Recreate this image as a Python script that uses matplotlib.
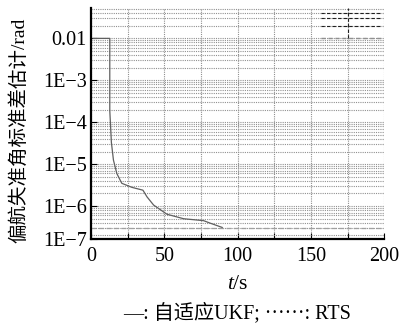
import matplotlib
matplotlib.use('Agg')
import matplotlib.pyplot as plt
from matplotlib.ticker import FixedLocator, LogLocator, NullFormatter

plt.rcParams['font.family'] = ['Liberation Serif', 'Noto Sans CJK SC']
plt.rcParams['mathtext.fontset'] = 'custom'
plt.rcParams['mathtext.it'] = 'Liberation Serif:italic'
plt.rcParams['mathtext.rm'] = 'Liberation Serif'

# adaptive UKF yaw misalignment std estimate (rad) vs time (s)
ukf_t = [1.4, 12.8, 12.8, 13.9, 15.3, 17.6, 21.0, 27.9, 35.4, 38.2, 42.7,
         51.8, 63.2, 76.8, 81.5, 89.5]
ukf_sigma = [1e-2, 1e-2, 1.9e-4, 3.3e-5, 1.25e-5, 6.0e-6, 3.5e-6, 2.8e-6,
             2.4e-6, 1.66e-6, 1.06e-6, 6.4e-7, 5.0e-7, 4.5e-7, 3.9e-7, 3.1e-7]

# RTS smoother level
rts_t = [0, 200]
rts_sigma = [3e-7, 3e-7]

ytick_vals = [1.64e-7, 1e-6, 1e-5, 1e-4, 1e-3, 1e-2]
ytick_labels = ['1E\u22127', '1E\u22126', '1E\u22125', '1E\u22124', '1E\u22123', '0.01']
xticks = [0, 50, 100, 150, 200]

# darker dashed grid pieces in the upper right corner
dark_grid_y = [0.02, 0.03, 0.04]
dark_grid_x = (157, 198)
dark_grid_vx = 175

fig = plt.figure(figsize=(4.10, 3.27), dpi=100)
ax = fig.add_axes([0.222, 0.269, 0.715, 0.7065])

ax.set_yscale('log')
ax.set_xlim(0, 200)
ax.set_ylim(1.64e-7, 0.053)

# grid
ax.grid(True, which='major', axis='both', color='#909090', linestyle=(0, (1, 1)), linewidth=0.8)
ax.grid(True, which='minor', axis='both', color='#909090', linestyle=(0, (1, 1)), linewidth=0.8)
ax.set_axisbelow(True)

ax.plot(rts_t, rts_sigma, color='#a0a0a0', linestyle=(0, (4, 2)), linewidth=0.9)
ax.plot(ukf_t, ukf_sigma, color='#606060', linewidth=0.9)

for yv in dark_grid_y:
    ax.hlines(yv, dark_grid_x[0], dark_grid_x[1], color='#202020', linestyle=(0, (3, 2)), linewidth=0.8)
ax.hlines(0.01, dark_grid_x[0], dark_grid_x[1], color='#909090', linestyle=(0, (3, 2)), linewidth=1.0)
ax.vlines(dark_grid_vx, 0.01, 0.053, color='#202020', linestyle=(0, (3, 2)), linewidth=0.8)

ax.yaxis.set_major_locator(FixedLocator(ytick_vals))
ax.set_yticklabels(ytick_labels)
ax.yaxis.set_minor_locator(LogLocator(base=10, subs=range(2, 10)))
ax.yaxis.set_minor_formatter(NullFormatter())
ax.set_xticks(xticks)
ax.set_xticks([25, 75, 125, 175], minor=True)

for side in ['top', 'right']:
    ax.spines[side].set_visible(False)
for side in ['left', 'bottom']:
    ax.spines[side].set_linewidth(1.6)

ax.tick_params(axis='both', which='major', direction='in', length=4, width=0.8,
               labelsize=14.5)
ax.tick_params(axis='x', which='major', pad=6)
ax.tick_params(axis='y', which='major', pad=3)
ax.tick_params(axis='x', which='minor', direction='in', length=4, width=0.8)
ax.tick_params(axis='y', which='minor', length=0)

ax.set_xlabel('$t$/s', fontsize=15.5, labelpad=6)
ax.set_ylabel('偏航失准角标准差估计/rad', fontsize=14)
ax.yaxis.set_label_coords(-0.215, 0.47)

fig.text(0.578, 0.045, '—: 自适应UKF; ······: RTS', ha='center', va='center', fontsize=14.5)

fig.savefig('out.png', dpi=100)
